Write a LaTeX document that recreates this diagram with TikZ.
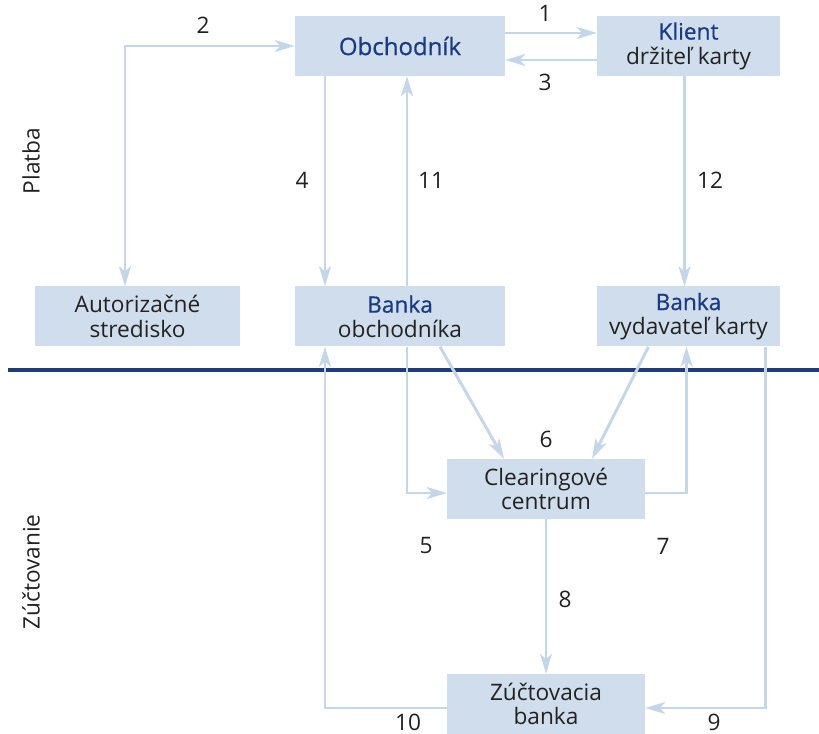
\documentclass[tikz,border=0pt]{standalone}
\usepackage{fontspec}
\setmainfont{Open Sans}
\newfontfamily\titlefont{Open Sans}[FakeBold=0.6]
\usetikzlibrary{arrows.meta}
\definecolor{boxfill}{HTML}{D0DDEC}
\definecolor{arrowblue}{HTML}{C6D6E9}
\definecolor{titleblue}{HTML}{1C3A82}
\definecolor{lineblue}{HTML}{1F3C7C}
\definecolor{textgray}{HTML}{222222}
\newcommand{\boxtitle}[1]{{\titlefont\color{titleblue}#1}}
\begin{document}
\begin{tikzpicture}[x=0.75pt, y=-0.75pt,
    every node/.style={text=textgray, font=\fontsize{17}{18.5}\selectfont},
    box/.style={fill=boxfill, minimum height=45pt, inner sep=0pt, align=center},
    arr/.style={draw=arrowblue, line width=2.2pt, -{Stealth[length=15pt, width=9pt, inset=4pt]}},
    lbl/.style={inner sep=0pt}]
  \useasboundingbox (0,0) rectangle (819,734);
  \node[box, minimum width=157.5pt] (obch) at (400,46) {\fontsize{18}{19}\selectfont\boxtitle{Obchodník}};
  \node[box, minimum width=137.25pt] (klient) at (688.5,46) {\boxtitle{Klient}\\držiteľ karty};
  \node[box, minimum width=153.75pt] (autor) at (137.5,316.5) {Autorizačné\\stredisko};
  \node[box, minimum width=157.5pt] (bobch) at (400,316.5) {\boxtitle{Banka}\\obchodníka};
  \node[box, minimum width=137.25pt] (bvyd) at (688.5,316.5) {\boxtitle{Banka}\\vydavateľ karty};
  \node[box, minimum width=148.5pt] (clear) at (546,489) {Clearingové\\centrum};
  \node[box, minimum width=148.5pt] (zucto) at (546,704) {Zúčtovacia\\banka};
  \draw[lineblue, line width=2.4pt] (8,370) -- (819,370);
  \node[rotate=90] (platba) at (31,161) {Platba};
  \node[rotate=90] (zuctovanie) at (31,572) {Zúčtovanie};
  \draw[arr] ([yshift=9.75pt]obch.east) -- ([yshift=9.75pt]klient.west);
  \draw[arr] ([yshift=-10.5pt]klient.west) -- ([yshift=-10.5pt]obch.east);
  \draw[arr, {Stealth[length=15pt, width=9pt, inset=4pt]}-{Stealth[length=15pt, width=9pt, inset=4pt]}] (obch.west) -| ([xshift=-9.4pt]autor.north);
  \draw[arr] ([xshift=-56.25pt]obch.south) -- ([xshift=-56.25pt]bobch.north);
  \draw[arr] ([xshift=5.25pt]bobch.north) -- ([xshift=5.25pt]obch.south);
  \draw[arr] ([xshift=-3pt]klient.south) -- ([xshift=-3pt]bvyd.south |- bvyd.north);
  \draw[arr] ([xshift=5.25pt]bobch.south) |- ([yshift=-3pt]clear.west);
  \draw[arr] ([xshift=30pt]bobch.south) -- ([xshift=-31.5pt]clear.north);
  \draw[arr] ([xshift=-30pt]bvyd.south) -- ([xshift=34.5pt]clear.north);
  \draw[arr] ([yshift=-3pt]clear.east) -| ([xshift=-1.5pt]bvyd.south);
  \draw[arr] (clear.south) -- (zucto.north);
  \draw[arr] ([xshift=57.75pt]bvyd.south) |- ([yshift=-3pt]zucto.east);
  \draw[arr] ([yshift=-3pt]zucto.west) -| ([xshift=-56.25pt]bobch.south);
  \node[lbl] (n1) at (545,13) {1};
  \node[lbl] (n2) at (203,25) {2};
  \node[lbl] (n3) at (545,82) {3};
  \node[lbl] (n4) at (302,180) {4};
  \node[lbl] (n11) at (431,180) {11};
  \node[lbl] (n12) at (710,180) {12};
  \node[lbl] (n6) at (546,439) {6};
  \node[lbl] (n5) at (426,546) {5};
  \node[lbl] (n7) at (663,546) {7};
  \node[lbl] (n8) at (565,599) {8};
  \node[lbl] (n10) at (408,722) {10};
  \node[lbl] (n9) at (714,722) {9};
\end{tikzpicture}
\end{document}
